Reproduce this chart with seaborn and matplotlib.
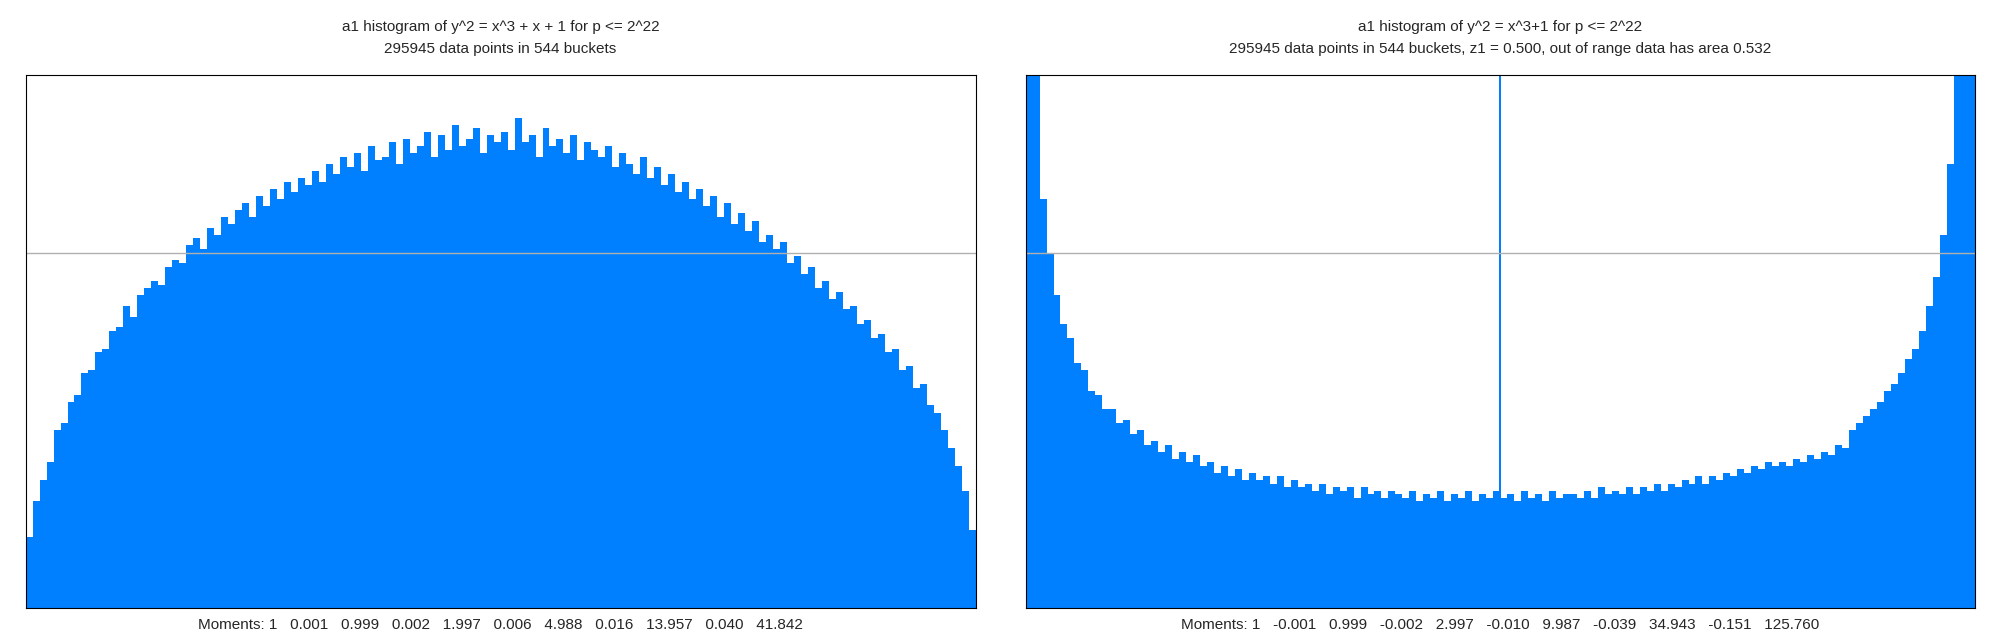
import matplotlib
matplotlib.use("Agg")
import matplotlib.pyplot as plt
import seaborn as sns
import numpy as np

sns.set_style("white")
plt.rcParams['font.family'] = ['Liberation Sans', 'DejaVu Sans']

left_values = [0.20,0.30,0.36,0.41,0.50,0.52,0.58,0.60,0.66,0.67,
0.72,0.73,0.78,0.79,0.85,0.82,0.88,0.90,0.92,0.91,
0.96,0.98,0.97,1.02,1.04,1.01,1.07,1.05,1.10,1.08,
1.12,1.14,1.10,1.16,1.13,1.18,1.15,1.20,1.17,1.21,
1.19,1.23,1.20,1.25,1.22,1.27,1.24,1.28,1.23,1.30,
1.26,1.27,1.31,1.25,1.32,1.28,1.30,1.34,1.27,1.33,
1.29,1.36,1.30,1.32,1.35,1.28,1.33,1.31,
1.34,1.29,1.38,1.31,1.33,1.27,1.35,1.30,1.32,1.28,
1.33,1.26,1.31,1.29,1.27,1.30,1.24,1.28,1.25,1.22,
1.27,1.21,1.24,1.19,1.22,1.17,1.20,1.15,1.18,1.13,
1.16,1.10,1.14,1.08,1.11,1.06,1.09,1.03,1.05,1.01,
1.03,0.97,0.99,0.94,0.96,0.90,0.92,0.87,0.89,0.84,
0.85,0.80,0.81,0.76,0.77,0.72,0.73,0.67,0.68,0.62,
0.63,0.57,0.55,0.50,0.45,0.40,0.33,0.22]

right_values = [2.0,1.50,1.15,1.00,0.88,0.80,0.76,0.69,0.67,0.61,
0.60,0.56,0.56,0.52,0.53,0.49,0.50,0.46,0.47,0.44,
0.46,0.42,0.44,0.41,0.43,0.40,0.41,0.38,0.40,0.37,
0.39,0.36,0.38,0.36,0.37,0.35,0.37,0.34,0.36,0.34,
0.35,0.33,0.35,0.32,0.34,0.33,0.34,0.31,0.34,0.32,
0.33,0.31,0.33,0.32,0.31,0.33,0.30,0.32,0.31,0.33,
0.30,0.32,0.31,0.33,0.30,0.32,0.31,0.33,
0.31,0.32,0.30,0.33,0.31,0.32,0.30,0.33,0.31,0.32,
0.32,0.31,0.33,0.31,0.34,0.32,0.33,0.32,0.34,0.32,
0.34,0.33,0.35,0.33,0.35,0.34,0.36,0.35,0.37,0.35,
0.37,0.36,0.38,0.37,0.39,0.38,0.40,0.39,0.41,0.40,
0.41,0.40,0.42,0.41,0.43,0.42,0.44,0.43,0.46,0.45,
0.50,0.52,0.54,0.56,0.58,0.61,0.63,0.66,0.70,0.73,
0.78,0.85,0.93,1.05,1.25,1.55,2.0,2.0]

spike_position = [0.5]
spike_height = [2.0]
spike_width = 1 / 544

titles = ["a1 histogram of y^2 = x^3 + x + 1 for p <= 2^22\n295945 data points in 544 buckets",
          "a1 histogram of y^2 = x^3+1 for p <= 2^22\n295945 data points in 544 buckets, z1 = 0.500, out of range data has area 0.532"]
moments = ["Moments: 1   0.001   0.999   0.002   1.997   0.006   4.988   0.016   13.957   0.040   41.842",
           "Moments: 1   -0.001   0.999   -0.002   2.997   -0.010   9.987   -0.039   34.943   -0.151   125.760"]

color = "#0080ff"
fig = plt.figure(figsize=(20, 6.4), dpi=100)
axes = [fig.add_axes([0.0128, 0.05, 0.475, 0.833]),
        fig.add_axes([0.5128, 0.05, 0.4745, 0.833])]

for i, (ax, vals) in enumerate(zip(axes, [left_values, right_values])):
    n = len(vals)
    centers = (np.arange(n) + 0.5) / n
    sns.histplot(x=centers, weights=vals, bins=n, binrange=(0, 1), stat="count",
                 color=color, alpha=1, linewidth=0, ax=ax)
    if i == 1:
        ax.bar(spike_position, spike_height, width=spike_width, color=color, linewidth=0)
    ax.axhline(1.0, color="#b0b0b0", linewidth=1)
    ax.set_xlim(0, 1)
    ax.set_ylim(0, 1.5)
    ax.set_xticks([]); ax.set_yticks([])
    ax.set_ylabel("")
    ax.set_xlabel(moments[i], fontsize=11, labelpad=7)
    for s in ax.spines.values():
        s.set_color("black"); s.set_linewidth(0.8)
    ax.set_title(titles[i], fontsize=11, pad=16, linespacing=1.7)

fig.savefig("out.png", dpi=100)
